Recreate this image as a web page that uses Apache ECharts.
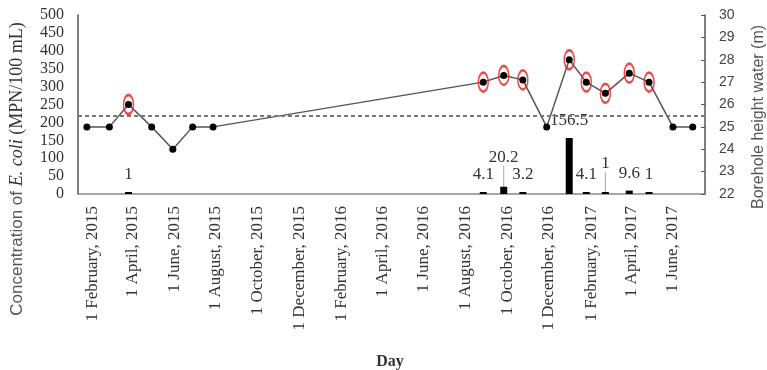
<!DOCTYPE html>
<html>
<head>
<meta charset="utf-8">
<script src="https://cdn.jsdelivr.net/npm/echarts@6/dist/echarts.min.js"></script>
<style>html,body{margin:0;padding:0;background:#fff;}#c{width:767px;height:370px;}</style>
</head>
<body>
<div id="c"></div>
<script>
// ---- data ----
const xTickDates = ['2015-02-01','2015-04-01','2015-06-01','2015-08-01','2015-10-01','2015-12-01',
  '2016-02-01','2016-04-01','2016-06-01','2016-08-01','2016-10-01','2016-12-01',
  '2017-02-01','2017-04-01','2017-06-01'];
const xTickLabels = ['1 February, 2015','1 April, 2015','1 June, 2015','1 August, 2015','1 October, 2015','1 December, 2015',
  '1 February, 2016','1 April, 2016','1 June, 2016','1 August, 2016','1 October, 2016','1 December, 2016',
  '1 February, 2017','1 April, 2017','1 June, 2017'];
const heightDates = ['2015-01-24','2015-02-26','2015-03-26','2015-04-29','2015-05-30','2015-06-28','2015-07-28',
  '2016-08-27','2016-09-26','2016-10-24','2016-11-28','2016-12-31','2017-01-25','2017-02-22','2017-03-29','2017-04-27','2017-06-01','2017-06-30'];
const heightValues = [25, 25, 26, 25, 24, 25, 25,
  27, 27.3, 27.1, 25, 28, 27, 26.5, 27.4, 27, 25, 25];
const ecoliDates = ['2015-03-26','2016-08-27','2016-09-26','2016-10-24','2016-12-31','2017-01-25','2017-02-22','2017-03-29','2017-04-27'];
const ecoliValues = [1, 4.1, 20.2, 3.2, 156.5, 4.1, 1, 9.6, 1];
const thresholdHeight = 25.5;
const leftTicks = {min: 0, max: 500, interval: 50};
const rightTicks = {min: 22, max: 30, interval: 1};
const xRange = ['2015-01-11', '2017-07-18'];

// ---- helpers ----
function ts(s){ const p = s.split('-').map(Number); return Date.UTC(p[0], p[1]-1, p[2]); }
const tickTs = xTickDates.map(ts);
const heightData = heightDates.map((d,i)=>[ts(d), heightValues[i]]);
const circled = heightData.filter(p => p[1] > thresholdHeight);
const raisedLabels = {2: -12, 6: -11};
const ecoliData = ecoliDates.map((d,i)=>{
  const item = {value:[ts(d), ecoliValues[i]]};
  if (raisedLabels[i] !== undefined) item.labelLine = {show:true, lineStyle:{color:'#aaa', width:1}};
  return item;
});

const serif = 'Liberation Serif';
const sans = 'Liberation Sans';

const chart = echarts.init(document.getElementById('c'), null, {renderer:'canvas'});
chart.setOption({
  animation: false,
  backgroundColor: '#fff',
  grid: {left: 78, right: 62, top: 15, bottom: 176, containLabel: false},
  xAxis: {
    type: 'value', min: ts(xRange[0]), max: ts(xRange[1]),
    axisLine: {show: true, lineStyle: {color: '#888', width: 1.5}},
    axisTick: {show: false},
    splitLine: {show: false},
    axisLabel: {
      customValues: tickTs, rotate: 90, margin: 12,
      fontFamily: serif, fontSize: 17, color: '#333',
      formatter: function(v){ const i = tickTs.indexOf(v); return i >= 0 ? xTickLabels[i] : ''; }
    }
  },
  yAxis: [{
    type: 'value', position: 'left', min: leftTicks.min, max: leftTicks.max, interval: leftTicks.interval,
    axisLine: {show: true, lineStyle: {color: '#555', width: 1.5}},
    axisTick: {show: false}, splitLine: {show: false},
    axisLabel: {fontFamily: serif, fontSize: 16, color: '#333', margin: 14}
  },{
    type: 'value', position: 'right', min: rightTicks.min, max: rightTicks.max, interval: rightTicks.interval,
    axisLine: {show: true, lineStyle: {color: '#555', width: 1.5}},
    axisTick: {show: true, inside: true, length: 4, lineStyle: {color: '#555'}},
    splitLine: {show: false},
    axisLabel: {fontFamily: sans, fontSize: 14, color: '#444', margin: 14}
  }],
  graphic: [
    {type: 'text', x: 17, y: 169, rotation: Math.PI/2,
     style: {text: '{a|Concentration of }{b|E. coli}{c| (MPN/100 mL)}', align: 'center', verticalAlign: 'middle',
       rich: {a: {fontFamily: sans, fontSize: 17, fill: '#555'}, b: {fontFamily: serif, fontStyle: 'italic', fontSize: 18, fill: '#333'}, c: {fontFamily: serif, fontSize: 18, fill: '#333'}}}},
    {type: 'text', x: 759, y: 117, rotation: Math.PI/2,
     style: {text: 'Borehole height water (m)', align: 'center', verticalAlign: 'middle', fontFamily: sans, fontSize: 16, fill: '#555'}},
    {type: 'text', x: 390, y: 362,
     style: {text: 'Day', align: 'center', verticalAlign: 'middle', fontFamily: serif, fontWeight: 'bold', fontSize: 16, fill: '#333'}}
  ],
  series: [
    {
      type: 'bar', yAxisIndex: 0, data: ecoliData, barWidth: 7, barMinHeight: 2,
      itemStyle: {color: '#000'},
      label: {show: true, position: 'top', distance: 9, fontFamily: serif, fontSize: 17, color: '#333',
        formatter: p => String(p.value[1])},
      labelLayout: function(p){ const dy = raisedLabels[p.dataIndex]; return dy !== undefined ? {dy: dy} : {}; },
      labelLine: {show: false},
      z: 2
    },
    {
      type: 'line', yAxisIndex: 1, data: heightData,
      symbol: 'circle', symbolSize: 7, showSymbol: true,
      itemStyle: {color: '#000'},
      lineStyle: {color: '#555', width: 1.5},
      markLine: {
        silent: true, symbol: 'none', label: {show: false},
        lineStyle: {color: '#777', type: [4, 3], width: 2},
        data: [{yAxis: thresholdHeight}]
      },
      z: 3
    },
    {
      type: 'scatter', yAxisIndex: 1, data: circled,
      symbol: 'path://M0,-1 A1,1 0 1,1 0,1 A1,1 0 1,1 0,-1 Z', symbolSize: [10, 19], symbolKeepAspect: false,
      itemStyle: {color: 'rgba(0,0,0,0)', borderColor: '#ee1c1c', borderWidth: 2},
      z: 4
    }
  ]
});
</script>
</body>
</html>
